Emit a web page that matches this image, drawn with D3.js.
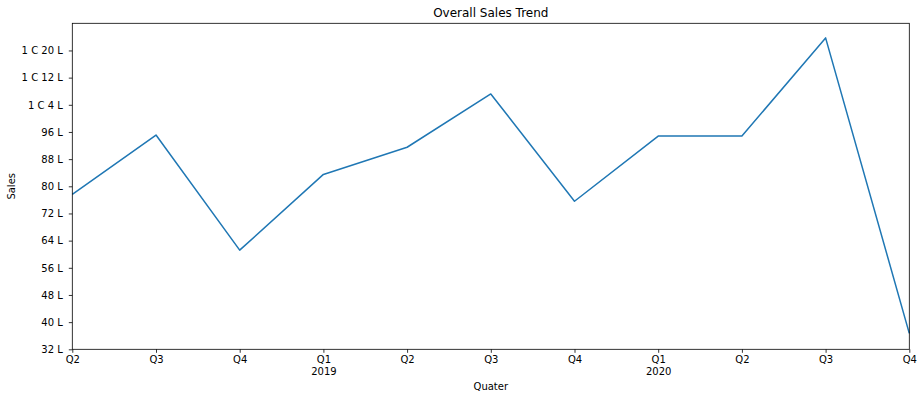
<!DOCTYPE html>
<html>
<head>
<meta charset="utf-8">
<script src="https://cdn.jsdelivr.net/npm/d3@7"></script>
<style>
  body { margin: 0; background: #fff; }
  svg text { font-family: "DejaVu Sans", sans-serif; fill: #000; }
</style>
</head>
<body>
<div id="chart"></div>
<script>
'use strict';

// quarters shown on the x axis, year given only on Q1
var quarters = ['Q2', 'Q3', 'Q4', 'Q1', 'Q2', 'Q3', 'Q4', 'Q1', 'Q2', 'Q3', 'Q4'];
var years = ['', '', '', '2019', '', '', '', '2020', '', '', ''];
// sales in lakhs
var sales = [77.6, 95.1, 61.2, 83.5, 91.5, 107.2, 75.6, 94.8, 94.8, 123.7, 36.7];
var yTicks = [32, 40, 48, 56, 64, 72, 80, 88, 96, 104, 112, 120];

var W = 923, H = 399;
var margin = {top: 23.3, right: 13.7, bottom: 49.7, left: 72.3};
var w = W - margin.left - margin.right;
var h = H - margin.top - margin.bottom;

function fmtLakh(v) {
  if (v >= 100) return '1 C ' + (v - 100) + ' L';
  return v + ' L';
}

var svg = d3.select('#chart').append('svg')
  .attr('width', W)
  .attr('height', H);

var g = svg.append('g')
  .attr('transform', 'translate(' + margin.left + ',' + margin.top + ')');

var x = d3.scaleLinear().domain([0, sales.length - 1]).range([0, w]);
var y = d3.scaleLinear().domain([32, 128]).range([h, 0]);

var line = d3.line()
  .x(function(d, i) { return x(i); })
  .y(function(d) { return y(d); });

g.append('path')
  .datum(sales)
  .attr('fill', 'none')
  .attr('stroke', '#1f77b4')
  .attr('stroke-width', 1.5)
  .attr('stroke-linejoin', 'round')
  .attr('d', line);

// axes
var yAxis = g.append('g')
  .call(d3.axisLeft(y).tickValues(yTicks).tickFormat(fmtLakh).tickSize(3.5).tickPadding(6));

var xAxis = g.append('g')
  .attr('transform', 'translate(0,' + h + ')')
  .call(d3.axisBottom(x).tickValues(d3.range(quarters.length)).tickFormat(function(i) { return quarters[i]; }).tickSize(3.5).tickPadding(3.5));

xAxis.selectAll('.tick text').each(function(i) {
  if (years[i]) {
    d3.select(this).append('tspan')
      .attr('x', 0)
      .attr('dy', '1.15em')
      .text(years[i]);
  }
});

[yAxis, xAxis].forEach(function(a) {
  a.select('.domain').remove();
  a.selectAll('.tick line').attr('stroke', '#000').attr('stroke-width', 0.8);
  a.selectAll('.tick text').attr('font-size', 10).attr('font-family', 'DejaVu Sans');
});

// frame
g.append('rect')
  .attr('width', w)
  .attr('height', h)
  .attr('fill', 'none')
  .attr('stroke', '#000')
  .attr('stroke-width', 0.8);

svg.append('text')
  .attr('x', margin.left + w / 2)
  .attr('y', 17)
  .attr('text-anchor', 'middle')
  .attr('font-size', 12)
  .text('Overall Sales Trend');

svg.append('text')
  .attr('x', margin.left + w / 2)
  .attr('y', 390)
  .attr('text-anchor', 'middle')
  .attr('font-size', 10)
  .text('Quater');

svg.append('text')
  .attr('transform', 'translate(15,' + (margin.top + h / 2) + ') rotate(-90)')
  .attr('text-anchor', 'middle')
  .attr('font-size', 10)
  .text('Sales');
</script>
</body>
</html>
